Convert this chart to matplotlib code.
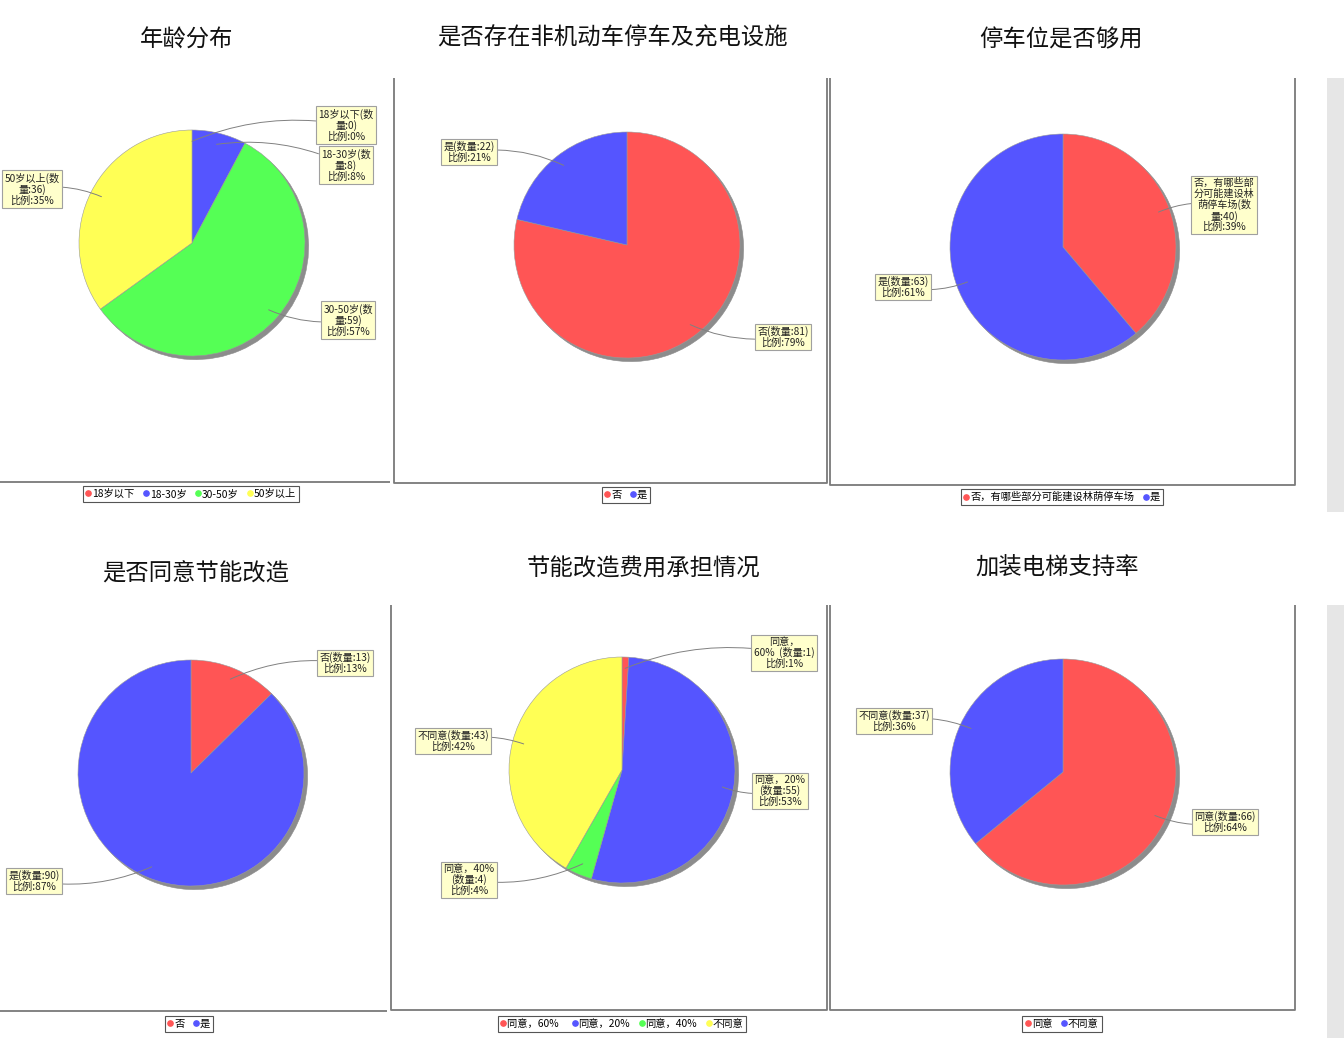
import matplotlib.pyplot as plt
from matplotlib.lines import Line2D
from matplotlib.patches import Rectangle
import numpy as np

plt.rcParams['font.family'] = ['Noto Sans CJK SC', 'DejaVu Sans']

W, H = 1344, 1038
RED, BLUE, GREEN, YELLOW = '#FF5555', '#5555FF', '#55FF55', '#FFFF55'

# ---- data ----
titles = ['年龄分布', '是否存在非机动车停车及充电设施', '停车位是否够用',
          '是否同意节能改造', '节能改造费用承担情况', '加装电梯支持率']

age_names = ['18岁以下', '18-30岁', '30-50岁', '50岁以上']
age_counts = [0, 8, 59, 36]
age_notes = ['18岁以下(数\n量:0)\n比例:0%', '18-30岁(数\n量:8)\n比例:8%',
             '30-50岁(数\n量:59)\n比例:57%', '50岁以上(数\n量:36)\n比例:35%']

bike_names = ['否', '是']
bike_counts = [81, 22]
bike_notes = ['否(数量:81)\n比例:79%', '是(数量:22)\n比例:21%']

park_names = ['否，有哪些部分可能建设林荫停车场', '是']
park_counts = [40, 63]
park_notes = ['否，有哪些部\n分可能建设林\n荫停车场(数\n量:40)\n比例:39%',
              '是(数量:63)\n比例:61%']

save_names = ['否', '是']
save_counts = [13, 90]
save_notes = ['否(数量:13)\n比例:13%', '是(数量:90)\n比例:87%']

cost_names = ['同意，60%  ', '同意，20%', '同意，40%', '不同意']
cost_counts = [1, 55, 4, 43]
cost_notes = ['同意，\n60%  (数量:1)\n比例:1%', '同意，20%\n(数量:55)\n比例:53%',
              '同意，40%\n(数量:4)\n比例:4%', '不同意(数量:43)\n比例:42%']

lift_names = ['同意', '不同意']
lift_counts = [66, 37]
lift_notes = ['同意(数量:66)\n比例:64%', '不同意(数量:37)\n比例:36%']

# ---- layout (pixels, y from top) ----
charts = [
    # names, counts, notes, colors, title xy, pie centre, note box centres, legend xy
    (age_names, age_counts, age_notes, [RED, BLUE, GREEN, YELLOW],
     (187, 40), (192, 243), [(346, 125), (346, 165), (348, 320), (32, 189)], (191, 494)),
    (bike_names, bike_counts, bike_notes, [RED, BLUE],
     (613, 38), (627, 245), [(783, 337), (469, 152)], (626, 495)),
    (park_names, park_counts, park_notes, [RED, BLUE],
     (1061, 40), (1063, 247), [(1224, 205), (903, 287)], (1062, 497)),
    (save_names, save_counts, save_notes, [RED, BLUE],
     (196, 574), (191, 773), [(345, 663), (34, 881)], (189, 1024)),
    (cost_names, cost_counts, cost_notes, [RED, BLUE, GREEN, YELLOW],
     (644, 569), (622, 770), [(784, 653), (780, 791), (469, 880), (453, 741)], (622, 1024)),
    (lift_names, lift_counts, lift_notes, [RED, BLUE],
     (1057, 568), (1063, 772), [(1225, 822), (894, 721)], (1062, 1024)),
]
R = 113

fig = plt.figure(figsize=(W / 100, H / 100), dpi=100)
ax = fig.add_axes([0, 0, 1, 1])

def Y(y):
    return H - y

# panel frames
grey = '#7a7a7a'
frames = [
    [(0, 482), (390, 482)],
    [(394, 78), (394, 483), (827, 483), (827, 78)],
    [(830, 78), (830, 485), (1295, 485), (1295, 78)],
    [(0, 1011), (387, 1011)],
    [(391, 605), (391, 1010), (827, 1010), (827, 605)],
    [(830, 605), (830, 1010), (1295, 1010), (1295, 605)],
]
for fr in frames:
    xs = [p[0] for p in fr]
    ys = [Y(p[1]) for p in fr]
    ax.plot(xs, ys, color=grey, lw=1.3, solid_capstyle='butt')
for y0, y1 in [(78, 512), (605, 1038)]:
    ax.add_patch(Rectangle((1327, Y(y1)), 17, y1 - y0, color='#e6e6e6', lw=0))

legends = []
for names, counts, notes, colors, txy, cxy, boxes, lxy in charts:
    cx, cy = cxy[0], Y(cxy[1])
    wedges, _ = ax.pie(counts, colors=colors, startangle=90, counterclock=False,
                       center=(cx, cy), radius=R, frame=True,
                       wedgeprops=dict(edgecolor='#9a9a9a', linewidth=0.4),
                       shadow={'ox': 2.6, 'oy': -2.6, 'facecolor': '#8c8c8c',
                               'edgecolor': '#8c8c8c', 'alpha': 1})
    # label anchors at the middle of each slice
    fr = np.array(counts, dtype=float) / sum(counts)
    mids = np.cumsum(fr) - fr / 2
    for m, note, (bx, by) in zip(mids, notes, boxes):
        ang = np.radians(90 - 360 * m)
        ax_pt = (cx + 0.9 * R * np.cos(ang), cy + 0.9 * R * np.sin(ang))
        rad = 0.15 if bx > cxy[0] else -0.15
        if by > cxy[1]:
            rad = -rad
        ax.annotate(note, xy=ax_pt, xytext=(bx, Y(by)), fontsize=7.3,
                    ha='center', va='center', linespacing=1.05, color='#222222',
                    bbox=dict(boxstyle='square,pad=0.22', fc='#ffffcc', ec='#a0a0a0', lw=0.8),
                    arrowprops=dict(arrowstyle='-', color='#808080', lw=0.7,
                                    shrinkA=0, shrinkB=0,
                                    connectionstyle=f'arc3,rad={rad}'))
    handles = [Line2D([], [], ls='', marker='o', markersize=3.8, color=c) for c in colors]
    leg = ax.legend(handles, names, loc='center', bbox_to_anchor=(lxy[0], Y(lxy[1])),
                    bbox_transform=ax.transData, ncol=len(names), fontsize=7.4,
                    frameon=True, fancybox=False, edgecolor='#555555', framealpha=1,
                    handlelength=0.45, handletextpad=0.15, columnspacing=0.9,
                    borderpad=0.3, borderaxespad=0)
    leg.get_frame().set_linewidth(0.8)
    legends.append(leg)

for leg in legends[:-1]:
    ax.add_artist(leg)

for t, ch in zip(titles, charts):
    tx, ty = ch[4]
    ax.text(tx, Y(ty), t, fontsize=16.8, ha='center', va='center', color='#111111')

ax.set_xlim(0, W)
ax.set_ylim(0, H)
ax.axis('off')

fig.savefig('out.png', dpi=100)
